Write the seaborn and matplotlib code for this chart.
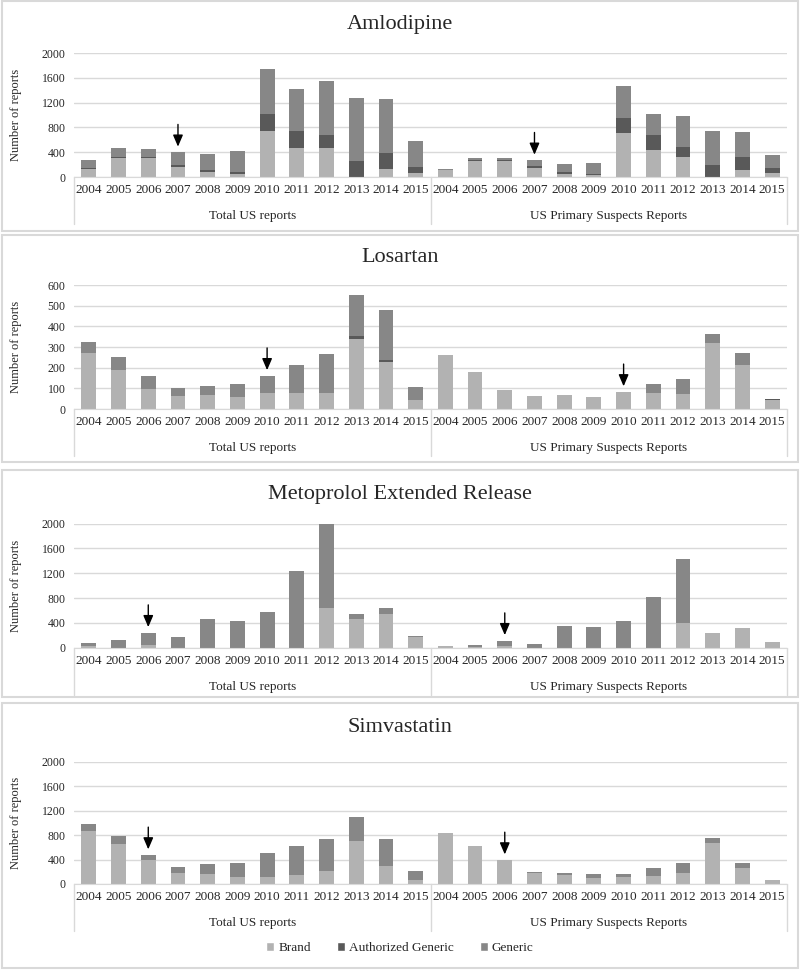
"""
Stacked bar panels: US adverse-event reports by product type
(Brand / Authorized Generic / Generic), 2004-2015, four drugs.
"""

import matplotlib
matplotlib.use("Agg")
import matplotlib.pyplot as plt
from matplotlib.patches import Patch, Rectangle
import pandas as pd
import seaborn as sns

YEARS = [str(y) for y in range(2004, 2016)]
GROUPS = ["Total US reports", "US Primary Suspects Reports"]
SERIES = ["Brand", "Authorized Generic", "Generic"]
COLORS = {"Brand": "#b2b2b2", "Authorized Generic": "#595959", "Generic": "#878787"}

# values: first 12 = Total US reports, last 12 = US Primary Suspects Reports
AML_BRAND = [130, 310, 310, 167, 76, 43, 745, 475, 475, 0, 130, 65,
             115, 260, 260, 146, 49, 27, 707, 443, 329, 0, 108, 59]
AML_AG = [10, 15, 10, 20, 38, 32, 275, 270, 195, 254, 259, 92,
          0, 20, 20, 32, 38, 16, 249, 237, 152, 200, 211, 81]
AML_GEN = [135, 135, 125, 213, 264, 352, 720, 675, 880, 1020, 869, 421,
           10, 22, 34, 92, 118, 178, 518, 330, 507, 534, 405, 216]

LOS_BRAND = [273, 187, 95, 65, 69, 60, 77, 76, 76, 337, 229, 44,
             263, 177, 90, 65, 66, 60, 80, 76, 71, 319, 215, 44]
LOS_AG = [0, 3, 0, 0, 0, 0, 0, 0, 0, 16, 8, 0,
          0, 0, 0, 0, 0, 0, 3, 0, 0, 0, 0, 4]
LOS_GEN = [50, 62, 63, 35, 44, 59, 84, 135, 190, 197, 242, 62,
           0, 0, 0, 0, 0, 0, 0, 43, 76, 46, 58, 0]

MET_BRAND = [32, 0, 43, 0, 0, 0, 0, 0, 640, 457, 548, 167,
             27, 8, 32, 0, 0, 0, 0, 0, 392, 237, 317, 97]
MET_AG = [0] * 24
MET_GEN = [43, 118, 199, 167, 457, 425, 575, 1236, 1360, 86, 86, 21,
           0, 35, 81, 54, 355, 333, 435, 823, 1038, 0, 0, 0]

SIM_BRAND = [871, 652, 389, 181, 164, 121, 121, 142, 219, 701, 296, 71,
             844, 619, 394, 175, 153, 104, 110, 137, 186, 674, 268, 71]
SIM_AG = [0, 10, 0, 0, 0, 0, 0, 0, 0, 0, 0, 0,
          0, 0, 0, 0, 0, 0, 0, 0, 0, 0, 0, 0]
SIM_GEN = [110, 127, 88, 93, 165, 219, 389, 488, 521, 395, 444, 143,
           0, 0, 0, 17, 28, 55, 54, 126, 165, 77, 72, 0]

# (title, brand, ag, generic, ymax, ystep, arrow year)
PANELS = [
    ("Amlodipine", AML_BRAND, AML_AG, AML_GEN, 2000, 400, "2007"),
    ("Losartan", LOS_BRAND, LOS_AG, LOS_GEN, 600, 100, "2010"),
    ("Metoprolol Extended Release", MET_BRAND, MET_AG, MET_GEN, 2000, 400, "2006"),
    ("Simvastatin", SIM_BRAND, SIM_AG, SIM_GEN, 2000, 400, "2006"),
]

# pixel layout (figure is 800 x 971 px)
W, H = 800, 971
AX_LEFT, AX_RIGHT = 74, 787
# (y of top tick, y of zero, title y, panel box top, panel box bottom)
LAYOUT = [
    (53, 177, 25, 1, 231),
    (285, 409, 258, 235, 462),
    (523.5, 647.7, 494, 470, 697),
    (762, 884, 727, 703, 968),
]

SERIF = ["Liberation Serif", "DejaVu Serif"]
GRID = "#d9d9d9"


def fy(px):
    return 1 - px / H


def draw_panel(fig, spec, layout):
    title, brand, ag, gen, ymax, ystep, arrow_year = spec
    y_top, y_zero, y_title, box_top, box_bot = layout

    fig.add_artist(Rectangle((2 / W, fy(box_bot)), (W - 4) / W,
                             (box_bot - box_top) / H, transform=fig.transFigure,
                             fill=False, edgecolor=GRID, linewidth=1.5))
    fig.text(0.5, fy(y_title), title, ha="center", va="center",
             fontsize=16, family=SERIF)

    ax = fig.add_axes([AX_LEFT / W, fy(y_zero), (AX_RIGHT - AX_LEFT) / W,
                       (y_zero - y_top) / H])

    slots = [f"{g[:5]} {y}" for g in GROUPS for y in YEARS]
    df = pd.DataFrame({"slot": slots, "brand": brand, "ag": ag, "gen": gen})
    df["brand_ag"] = df["brand"] + df["ag"]
    df["total"] = df["brand_ag"] + df["gen"]

    for col, name in [("total", "Generic"), ("brand_ag", "Authorized Generic"),
                      ("brand", "Brand")]:
        sns.barplot(data=df, x="slot", y=col, order=slots, color=COLORS[name],
                    width=0.5, linewidth=0, saturation=1, ax=ax, clip_on=False)

    ax.set_xlim(-0.5, len(slots) - 0.5)
    ax.set_ylim(0, ymax)
    ax.set_yticks(range(0, ymax + 1, ystep))
    ax.set_yticklabels([str(v) for v in range(0, ymax + 1, ystep)],
                       fontsize=8.5, family=SERIF, color="#262626")
    ax.set_xticks(range(len(slots)))
    ax.set_xticklabels(YEARS * 2, fontsize=9.5, family=SERIF, color="#262626")
    ax.tick_params(length=0, axis="y", pad=6)
    ax.tick_params(length=0, axis="x", pad=5)
    ax.set_xlabel("")
    ax.set_ylabel("Number of reports", fontsize=9, family=SERIF)
    ax.yaxis.set_label_coords(-(AX_LEFT - 22) / (AX_RIGHT - AX_LEFT), 0.5)
    ax.yaxis.grid(True, color=GRID, linewidth=1)
    ax.set_axisbelow(True)
    for side in ("top", "right", "left"):
        ax.spines[side].set_visible(False)
    ax.spines["bottom"].set_color(GRID)

    # group labels and separators below the axis
    ax_h = y_zero - y_top
    drop = 47 / ax_h
    for xpos in (-0.5, 11.5, 23.5):
        ax.plot([xpos, xpos], [0, -drop], color=GRID, linewidth=1,
                transform=ax.get_xaxis_transform(), clip_on=False)
    for i, g in enumerate(GROUPS):
        ax.text(5.5 + 12 * i, -39 / ax_h, g, ha="center", va="center",
                fontsize=9.5, family=SERIF, color="#262626",
                transform=ax.get_xaxis_transform())

    # arrows marking generic entry
    for k in (YEARS.index(arrow_year), 12 + YEARS.index(arrow_year)):
        ax.annotate("", xy=(k, df["total"][k]), xytext=(0, 20),
                    textcoords="offset points",
                    arrowprops=dict(arrowstyle="-|>,head_length=0.7,head_width=0.3",
                                    color="black", lw=1, shrinkA=0, shrinkB=4))
    return ax


def main():
    sns.set_style("white")
    plt.rcParams["font.family"] = SERIF

    fig = plt.figure(figsize=(W / 100, H / 100), dpi=100)
    for spec, layout in zip(PANELS, LAYOUT):
        draw_panel(fig, spec, layout)

    handles = [Patch(facecolor=COLORS[s], label=s) for s in SERIES]
    fig.legend(handles=handles, loc="center", bbox_to_anchor=(0.5, fy(948)),
               ncol=3, frameon=False, handlelength=0.6,
               handleheight=0.6, handletextpad=0.3, columnspacing=2.0,
               prop={"family": SERIF, "size": 9.5})

    fig.savefig("out.png", dpi=100)
    plt.close(fig)


if __name__ == "__main__":
    main()
